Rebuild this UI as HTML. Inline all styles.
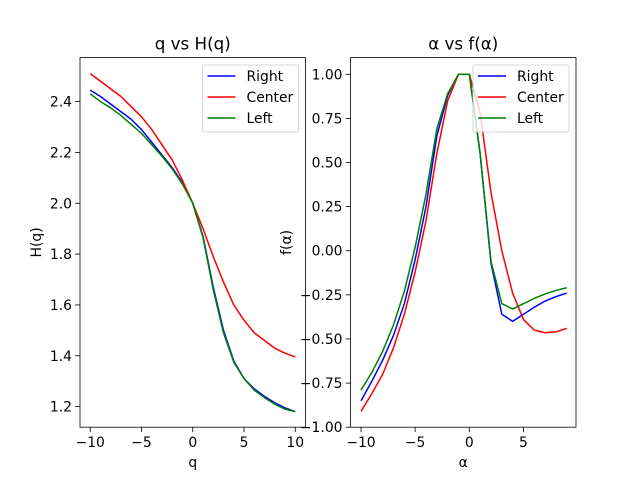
<!DOCTYPE html>
<html><head><meta charset="utf-8"><style>
body{margin:0;background:#fff}
svg{font-family:"DejaVu Sans","Liberation Sans",sans-serif;display:block}
</style></head><body>
<svg id="fig" width="640" height="480"></svg>
<script>
const qVals=[-10,-9,-8,-7,-6,-5,-4,-3,-2,-1,0,1,2,3,4,5,6,7,8,9,10];
const hRight=[2.445,2.42,2.39,2.36,2.33,2.29,2.24,2.19,2.14,2.08,2.0,1.87,1.67,1.50,1.38,1.31,1.27,1.24,1.215,1.195,1.18];
const hCenter=[2.51,2.48,2.45,2.42,2.38,2.34,2.29,2.23,2.17,2.09,2.0,1.90,1.79,1.69,1.60,1.54,1.49,1.46,1.43,1.41,1.395];
const hLeft=[2.43,2.40,2.375,2.345,2.31,2.275,2.23,2.185,2.135,2.075,2.0,1.865,1.66,1.49,1.375,1.31,1.265,1.235,1.21,1.19,1.18];
const aVals=[-10,-9,-8,-7,-6,-5,-4,-3,-2,-1,0,1,2,3,4,5,6,7,8,9];
const fRight=[-0.85,-0.74,-0.62,-0.48,-0.30,-0.05,0.25,0.65,0.88,1.0,1.0,0.55,-0.07,-0.36,-0.40,-0.36,-0.32,-0.285,-0.26,-0.24];
const fCenter=[-0.91,-0.81,-0.70,-0.55,-0.36,-0.12,0.17,0.55,0.85,1.0,1.0,0.78,0.33,0.0,-0.24,-0.39,-0.45,-0.465,-0.46,-0.44];
const fLeft=[-0.79,-0.69,-0.57,-0.42,-0.23,0.02,0.32,0.69,0.89,1.0,1.0,0.55,-0.06,-0.30,-0.33,-0.30,-0.27,-0.245,-0.225,-0.21];
const hXTicks=[-10,-5,0,5,10];
const hYTicks=[1.2,1.4,1.6,1.8,2.0,2.2,2.4];
const fXTicks=[-10,-5,0,5];
const fYTicks=[-1.0,-0.75,-0.5,-0.25,0.0,0.25,0.5,0.75,1.0];
const NS="http://www.w3.org/2000/svg";
const svg=document.getElementById('fig');
function mk(tag,attrs,parent,text){const e=document.createElementNS(NS,tag);for(const k in attrs)e.setAttribute(k,attrs[k]);if(text!==undefined)e.textContent=text;(parent||svg).appendChild(e);return e;}
const FS=13.9;
function panel(o){
  const g=mk('g',{});
  
  
  const sx=v=>o.x0+(v-o.xmin)/(o.xmax-o.xmin)*(o.x1-o.x0);
  const sy=v=>o.y1-(v-o.ymin)/(o.ymax-o.ymin)*(o.y1-o.y0);
  const cols=['#0000ff','#ff0000','#008000'],names=['Right','Center','Left'];
  o.series.forEach((s,i)=>{
    const p=mk('polyline',{points:o.xs.map((x,j)=>sx(x).toFixed(2)+','+sy(s[j]).toFixed(2)).join(' '),fill:'none',stroke:cols[i],'stroke-width':1.5,'stroke-linejoin':'round'},g);
    
    
  });
  const fr=mk('rect',{x:o.x0,y:o.y0,width:o.x1-o.x0,height:o.y1-o.y0,fill:'none',stroke:'#000','stroke-width':0.8},g);
  
  
  o.xt.forEach(t=>{const x=sx(t);mk('line',{x1:x,x2:x,y1:o.y1,y2:o.y1+4.9,stroke:'#000','stroke-width':0.8},g);
    const tl=mk('text',{x:x,y:o.y1+20,'font-size':FS,'text-anchor':'middle'},g,t<0?'\u2212'+(-t):String(t));
    
    });
  o.yt.forEach(t=>{const y=sy(t);mk('line',{x1:o.x0,x2:o.x0-4.9,y1:y,y2:y,stroke:'#000','stroke-width':0.8},g);
    const s=t.toFixed(o.yd);const lab=t<0?'\u2212'+s.slice(1):s;
    const tl=mk('text',{x:o.x0-8,y:y+5,'font-size':FS,'text-anchor':'end'},g,lab);
    
    });
  const ti=mk('text',{x:(o.x0+o.x1)/2,y:o.y0-8,'font-size':16.7,'text-anchor':'middle'},g,o.title);
  
  
  const xl=mk('text',{x:(o.x0+o.x1)/2,y:467,'font-size':FS,'text-anchor':'middle'},g,o.xlabel);
  
  
  const yl=mk('text',{x:0,y:0,'font-size':FS,'text-anchor':'middle',transform:`translate(${o.ylx},${(o.y0+o.y1)/2}) rotate(-90)`},g,o.ylabel);
  
  
  const lx=o.x1-103,ly=65;
  const lg=mk('g',{},g);
  
  
  mk('rect',{x:lx,y:ly,width:96,height:67,rx:2,fill:'#fff','fill-opacity':0.8,stroke:'#ccc','stroke-width':0.8},lg);
  names.forEach((n,i)=>{const y=ly+11+i*21;
    mk('line',{x1:lx+5,x2:lx+33,y1:y,y2:y,stroke:cols[i],'stroke-width':1.5},lg);
    const t=mk('text',{x:lx+44,y:y+5,'font-size':FS},lg,n);
    
    });
}
panel({name:'h-chart',x0:80,x1:305.5,y0:57.6,y1:427.2,xmin:-11,xmax:11,ymin:1.119,ymax:2.573,xs:qVals,series:[hRight,hCenter,hLeft],xt:hXTicks,yt:hYTicks,yd:1,title:'q vs H(q)',xlabel:'q',ylabel:'H(q)',ylx:41});
panel({name:'f-chart',x0:350.5,x1:576,y0:57.6,y1:427.2,xmin:-10.97,xmax:9.85,ymin:-1.0,ymax:1.0945,xs:aVals,series:[fRight,fCenter,fLeft],xt:fXTicks,yt:fYTicks,yd:2,title:'\u03b1 vs f(\u03b1)',xlabel:'\u03b1',ylabel:'f(\u03b1)',ylx:291});
</script>
</body></html>
